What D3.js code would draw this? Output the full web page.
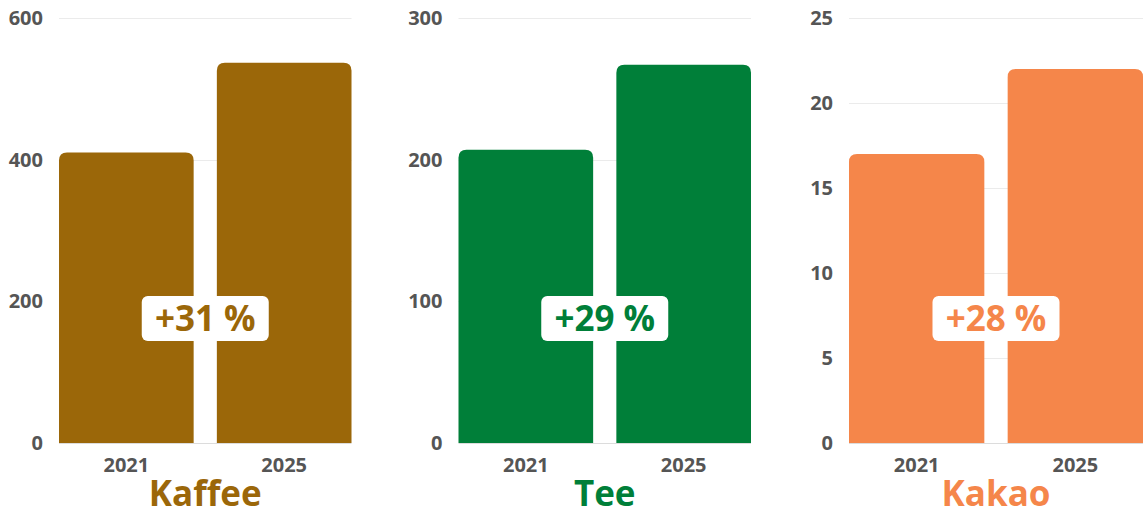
<!DOCTYPE html>
<html>
<head>
<meta charset="utf-8">
<script src="https://cdn.jsdelivr.net/npm/d3@7"></script>
<style>
  html, body { margin: 0; padding: 0; background: #ffffff; }
  svg { display: block; font-family: "Open Sans", "Noto Sans", sans-serif; }
</style>
</head>
<body>
<svg id="chart" width="1145" height="515"></svg>
<script>
// ---- Data ----
const categories = ["Kaffee", "Tee", "Kakao"];
const years = ["2021", "2025"];
const values2021 = [410, 207, 17];
const values2025 = [537, 267, 22];
const changeLabels = ["+31 %", "+29 %", "+28 %"];
const yMaxima = [600, 300, 25];
const yTickValues = [[0, 200, 400, 600], [0, 100, 200, 300], [0, 5, 10, 15, 20, 25]];
const colors = ["#9b6709", "#007f39", "#f5864a"];

// ---- Layout ----
const panelRanges = [[59, 351.5], [458.5, 751], [849, 1143]];
const yTop = 18, yBottom = 443;
const radius = 8;

const svg = d3.select("#chart");

function topRoundedRect(x, y, w, h, r) {
  r = Math.min(r, h, w / 2);
  return `M${x},${y + h}` +
    `V${y + r}` +
    `Q${x},${y} ${x + r},${y}` +
    `H${x + w - r}` +
    `Q${x + w},${y} ${x + w},${y + r}` +
    `V${y + h}Z`;
}

categories.forEach((cat, i) => {
  const g = svg.append("g");
  const [x0, x1] = panelRanges[i];
  const x = d3.scaleBand().domain(years).range([x0, x1]).paddingInner(0.147).paddingOuter(0);
  const y = d3.scaleLinear().domain([0, yMaxima[i]]).range([yBottom, yTop]);
  const vals = [values2021[i], values2025[i]];

  // gridlines
  g.append("g").selectAll("line").data(yTickValues[i]).join("line")
    .attr("x1", x0).attr("x2", x1)
    .attr("y1", d => Math.round(y(d)) + 0.5).attr("y2", d => Math.round(y(d)) + 0.5)
    .attr("stroke", d => d === 0 ? "#dcdcdc" : "#ebebeb")
    .attr("stroke-width", 1);

  // y axis labels
  const yAxis = d3.axisLeft(y).tickValues(yTickValues[i]).tickSize(0).tickPadding(16);
  const ya = g.append("g").attr("transform", `translate(${x0},0)`).call(yAxis);
  ya.select(".domain").remove();
  ya.selectAll("text")
    .attr("fill", "#555555")
    .style("font-family", "'Open Sans', sans-serif")
    .style("font-weight", 700)
    .style("font-size", "20px");

  // bars
  g.append("g").selectAll("path").data(years).join("path")
    .attr("d", (d, j) => topRoundedRect(x(d), y(vals[j]), x.bandwidth(), yBottom - y(vals[j]), radius))
    .attr("fill", colors[i]);

  // x axis labels
  const xAxis = d3.axisBottom(x).tickSize(0).tickPadding(15);
  const xa = g.append("g").attr("transform", `translate(0,${yBottom})`).call(xAxis);
  xa.select(".domain").remove();
  xa.selectAll("text")
    .attr("fill", "#555555")
    .style("font-family", "'Open Sans', sans-serif")
    .style("font-weight", 700)
    .style("font-size", "20px");

  const cx = (x0 + x1) / 2;

  // change label box
  const labelCenterY = 318.5;
  const lg = g.append("g");
  lg.append("rect")
    .attr("x", cx - 127 / 2).attr("y", labelCenterY - 45 / 2)
    .attr("width", 127).attr("height", 45)
    .attr("rx", 6).attr("ry", 6)
    .attr("fill", "#ffffff");
  lg.append("text")
    .attr("x", cx).attr("y", labelCenterY)
    .attr("text-anchor", "middle")
    .attr("dy", "0.36em")
    .attr("fill", colors[i])
    .style("font-weight", 700)
    .style("font-size", "35px")
    .text(changeLabels[i]);

  // category title
  g.append("text")
    .attr("x", cx).attr("y", 506)
    .attr("text-anchor", "middle")
    .attr("fill", colors[i])
    .style("font-weight", 700)
    .style("font-size", "35px")
    .text(cat);
});
</script>
</body>
</html>
